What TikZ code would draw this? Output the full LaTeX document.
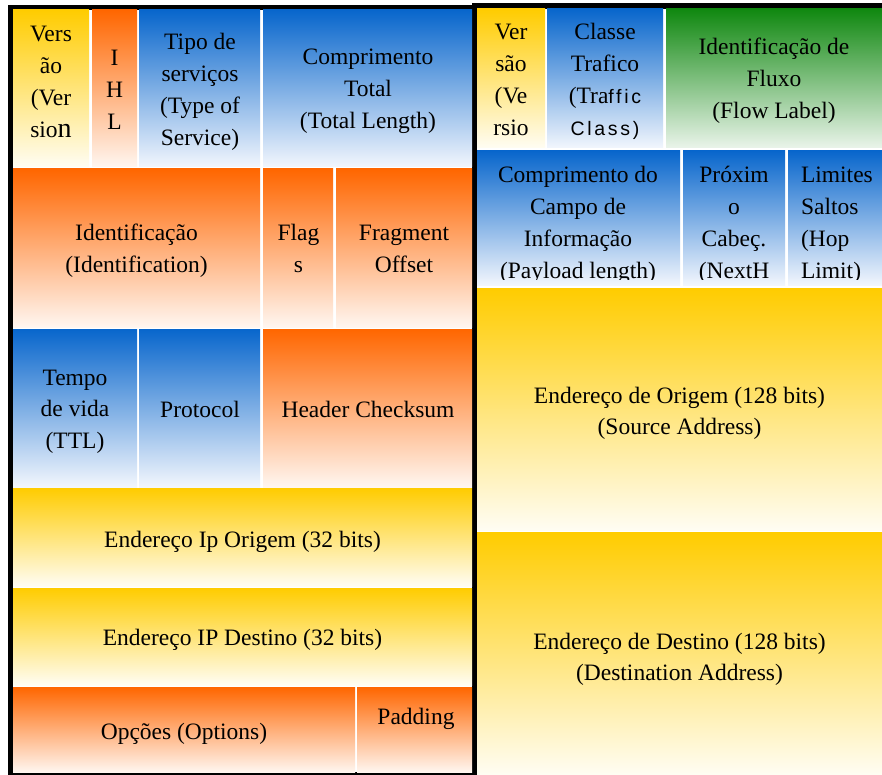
\documentclass[tikz,border=0pt]{standalone}
\usepackage{fontspec}
\setmainfont{Liberation Serif}
\newfontfamily\arialface[LetterSpace=14]{Liberation Sans}

\definecolor{capYellow}{RGB}{255,204,0}
\definecolor{capOrange}{RGB}{255,102,0}
\definecolor{capBlue}{RGB}{8,102,204}
\definecolor{capGreen}{RGB}{16,136,16}
\definecolor{fadeYellow}{RGB}{255,253,243}
\definecolor{fadeOrange}{RGB}{255,246,240}
\definecolor{fadeBlue}{RGB}{242,246,253}
\definecolor{fadeGreen}{RGB}{234,244,234}

\tikzset{
  fieldtext/.style={inner sep=0pt, outer sep=0pt, align=center, anchor=north,
    font=\fontsize{23.5}{31.7}\selectfont, text=black},
  field/.style={rectangle, inner sep=0pt, outer sep=0pt},
  yellowfield/.style={field, top color=capYellow, bottom color=fadeYellow},
  orangefield/.style={field, top color=capOrange, bottom color=fadeOrange},
  bluefield/.style={field, top color=capBlue, bottom color=fadeBlue},
  greenfield/.style={field, top color=capGreen, bottom color=fadeGreen},
}

% fixed first-line height and last-line depth, so a label's top sits 18pt above its first baseline
\newcommand{\topstrut}{\rule{0pt}{18pt}}
\newcommand{\botstrut}{\rule[-5.5pt]{0pt}{5.5pt}}

% \headercell{name}{left}{top}{right}{bottom}{style}, pixel-style coordinates
\newcommand{\headercell}[6]{%
  \node[#6, minimum width={(#4-#2)*1pt}, minimum height={(#5-#3)*1pt}]
    (#1) at ({(#2+#4)/2},{-(#3+#5)/2}) {};}

% \fieldlabel[options]{name}{centre x}{first baseline}{text}
\newcommand{\fieldlabel}[5][]{%
  \node[fieldtext, #1] (#2) at (#3,{-(#4-18)}) {\topstrut#5\botstrut};}

\newcommand{\sanspart}[1]{{\arialface\fontsize{19.5}{31.7}\selectfont #1}}

\begin{document}
\begin{tikzpicture}[x=1pt,y=1pt]
  \useasboundingbox (0,0) rectangle (882,-775);
  \fill[white] (0,0) rectangle (882,-775);

  % frames of the two headers
  \fill[black] (8,-5) rectangle (477,-775);
  \fill[white] (13,-10) rectangle (472,-772);
  \fill[black] (472,-3) rectangle (882,-9);
  \fill[black] (472,-3) rectangle (477,-775);
  \fill[white] (477,-9) rectangle (882,-775);

  % ---- IPv4 header ----
  \headercell{verA}{13}{10}{89}{167}{yellowfield}
  \headercell{ihl}{92}{10}{137}{167}{orangefield}
  \headercell{tos}{139}{10}{260}{167}{bluefield}
  \headercell{tlen}{263}{10}{472}{167}{bluefield}
  \headercell{ident}{13}{169}{260}{327}{orangefield}
  \headercell{flags}{263}{169}{333}{327}{orangefield}
  \headercell{frag}{336}{169}{472}{327}{orangefield}
  \headercell{ttl}{13}{329}{137}{487}{bluefield}
  \headercell{proto}{139}{329}{260}{487}{bluefield}
  \headercell{hcs}{263}{329}{472}{487}{orangefield}
  \headercell{srcA}{13}{488}{472}{586}{yellowfield}
  \headercell{dstA}{13}{588}{472}{685}{yellowfield}
  \headercell{opts}{13}{687}{355}{772}{orangefield}
  \headercell{pad}{357}{687}{472}{772}{orangefield}

  \fieldlabel{verAText}{51}{42}{Vers\\ão\\(Ver\\sio{\fontsize{28}{31.7}\selectfont n}}
  \fieldlabel{ihlText}{114.5}{66}{I\\H\\L}
  \fieldlabel{tosText}{200}{50}{Tipo de\\serviços\\(Type of\\Service)}
  \fieldlabel{tlenText}{368}{65}{Comprimento\\Total\\(Total Length)}
  \fieldlabel{identText}{136.5}{241}{Identificação\\(Identification)}
  \fieldlabel{flagsText}{298.5}{241}{Flag\\s}
  \fieldlabel{fragText}{404}{241}{Fragment\\Offset}
  \fieldlabel{ttlText}{75}{385}{Tempo\\de vida\\(TTL)}
  \fieldlabel{protoText}{200}{417}{Protocol}
  \fieldlabel{hcsText}{368}{417}{Header Checksum}
  \fieldlabel{srcAText}{242.5}{547}{Endereço Ip Origem (32 bits)}
  \fieldlabel{dstAText}{242.5}{645}{Endereço IP Destino (32 bits)}
  \fieldlabel{optsText}{184}{739}{Opções (Options)}
  \fieldlabel{padText}{416}{724}{Padding}

  % ---- IPv6 header ----
  \headercell{verB}{477}{9}{545}{148}{yellowfield}
  \headercell{tclass}{547}{9}{663}{148}{bluefield}
  \headercell{flow}{666}{9}{882}{148}{greenfield}
  \headercell{plen}{477}{151}{680}{285}{bluefield}
  \headercell{nexth}{683}{151}{785}{285}{bluefield}
  \headercell{hop}{788}{151}{882}{285}{bluefield}
  \headercell{srcB}{477}{288}{882}{530}{yellowfield}
  \headercell{dstB}{477}{532}{882}{775}{yellowfield}

  \fieldlabel{verBText}{511}{40}{Ver\\são\\(Ve\\rsio}
  \fieldlabel{tclassText}{605}{40}{Classe\\Trafico\\(Tra\sanspart{ffic}\\\sanspart{Class)}}
  \fieldlabel{flowText}{774}{55}{Identificação de\\Fluxo\\(Flow Label)}
  \begin{scope}
    % the second row is cut off just above the bottom of its cells
    \clip (477,-151) rectangle (882,-279);
    \fieldlabel{plenText}{578}{183}{Comprimento do\\Campo de\\Informação\\(Payload length)}
    \fieldlabel{nexthText}{734}{183}{Próxim\\o\\Cabeç.\\(NextH}
    \fieldlabel[align=left, anchor=north west]{hopText}{801}{183}{Limites\\Saltos\\(Hop\\Limit)}
  \end{scope}
  \fieldlabel{srcBText}{679.5}{403}{Endereço de Origem (128 bits)\\(Source Address)}
  \fieldlabel{dstBText}{679.5}{649}{Endereço de Destino (128 bits)\\(Destination Address)}
\end{tikzpicture}
\end{document}
